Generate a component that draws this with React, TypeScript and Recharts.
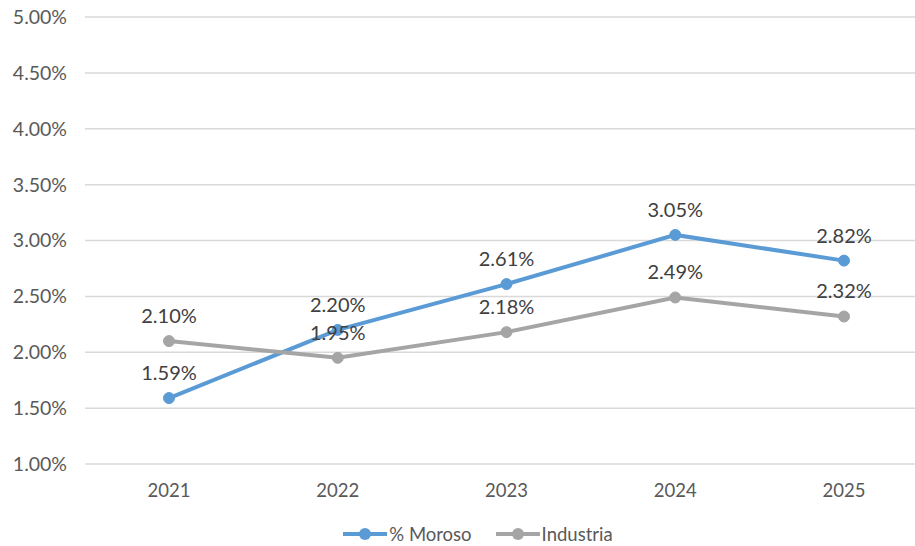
import React from 'react';
import { LineChart, Line, XAxis, YAxis, CartesianGrid, Legend, LabelList } from 'recharts';

const years = ['2021', '2022', '2023', '2024', '2025'];
const moroso = [1.59, 2.2, 2.61, 3.05, 2.82];
const industria = [2.1, 1.95, 2.18, 2.49, 2.32];
const yTicks = [1, 1.5, 2, 2.5, 3, 3.5, 4, 4.5, 5];

const BLUE = '#5B9BD5';
const GRAY = '#A5A5A5';
const FONT = 'Lato, "Open Sans", sans-serif';

const data = years.map((year, i) => ({ year, moroso: moroso[i], industria: industria[i] }));

const pct = (v: number) => `${Number(v).toFixed(2)}%`;

const LegendItem = ({ color, label }: { color: string; label: string }) => (
  <div style={{ display: 'flex', alignItems: 'center' }}>
    <svg width={44} height={14}>
      <line x1={0} y1={7} x2={44} y2={7} stroke={color} strokeWidth={4} />
      <circle cx={22} cy={7} r={6} fill={color} />
    </svg>
    <span style={{ fontSize: 18.5, color: '#595959', fontFamily: FONT, marginLeft: 2, lineHeight: '20px' }}>{label}</span>
  </div>
);

const CustomLegend = () => (
  <div style={{ display: 'flex', justifyContent: 'center', height: 20, gap: 24 }}>
    <LegendItem color={BLUE} label="% Moroso" />
    <LegendItem color={GRAY} label="Industria" />
  </div>
);

export default function App() {
  return (
    <div style={{ position: 'fixed', left: 0, top: 0, width: 915, height: 546, overflow: 'hidden', background: '#fff' }}>
      <LineChart width={930} height={546} data={data} margin={{ top: 17, right: 2, bottom: 32, left: 0 }}>
        <CartesianGrid vertical={false} stroke="#D9D9D9" strokeWidth={1.5} />
        <XAxis
          dataKey="year"
          height={30}
          padding={{ left: 84, right: 84 }}
          axisLine={false}
          tickLine={false}
          tickMargin={14}
          tick={{ fill: '#595959', fontSize: 18.5, fontFamily: FONT }}
        />
        <YAxis
          width={85}
          domain={[1, 5]}
          ticks={yTicks}
          axisLine={false}
          tickLine={false}
          tickMargin={12}
          tickFormatter={pct}
          tick={{ fill: '#595959', fontSize: 19.5, fontFamily: FONT }}
        />
        <Legend
          content={<CustomLegend />}
          height={20}
          wrapperStyle={{ left: 0, width: 956, top: 524, bottom: 'auto' }}
        />
        <Line
          dataKey="moroso"
          name="% Moroso"
          stroke={BLUE}
          strokeWidth={4}
          dot={{ r: 5.5, fill: BLUE, stroke: BLUE, strokeWidth: 1 }}
          isAnimationActive={false}
        >
          <LabelList dataKey="moroso" position="top" offset={18} formatter={pct} fill="#404040" fontSize={20} fontFamily={FONT} />
        </Line>
        <Line
          dataKey="industria"
          name="Industria"
          stroke={GRAY}
          strokeWidth={4}
          dot={{ r: 5.5, fill: GRAY, stroke: GRAY, strokeWidth: 1 }}
          isAnimationActive={false}
        >
          <LabelList dataKey="industria" position="top" offset={18} formatter={pct} fill="#404040" fontSize={20} fontFamily={FONT} />
        </Line>
      </LineChart>
    </div>
  );
}
